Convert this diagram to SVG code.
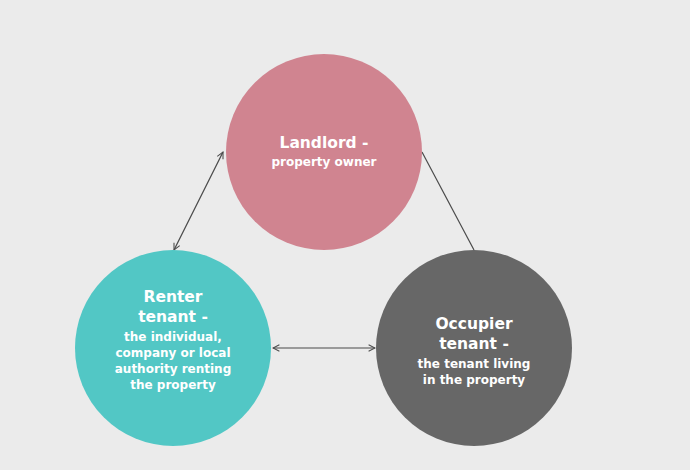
<svg xmlns="http://www.w3.org/2000/svg" width="690" height="470" viewBox="0 0 690 470">
<style>
.t{font-family:"DejaVu Sans","Liberation Sans",sans-serif;font-weight:bold;fill:#ffffff;text-anchor:middle}
.h{font-size:15.5px}
.s{font-size:12px}
.c{stroke:#4a4a4a;stroke-width:1.2;fill:none}
</style>
<defs>
<marker id="a" viewBox="0 0 10 10" refX="9" refY="5" markerWidth="8" markerHeight="8" orient="auto-start-reverse" markerUnits="userSpaceOnUse">
<path d="M1,1 L9,5 L1,9" fill="none" stroke="#4a4a4a" stroke-width="1.3"/>
</marker>
</defs>
<rect width="690" height="470" fill="#ebebeb"/>
<g id="connectors">
<line class="c" x1="223" y1="152" x2="174" y2="250" marker-start="url(#a)" marker-end="url(#a)"/>
<line class="c" x1="422" y1="152" x2="474" y2="250"/>
<line class="c" x1="273" y1="348" x2="375" y2="348" marker-start="url(#a)" marker-end="url(#a)"/>
</g>
<g id="landlord">
<circle cx="324" cy="152" r="98" fill="#d08490"/>
<text class="t h" x="324" y="148">Landlord -</text>
<text class="t s" x="324" y="166">property owner</text>
</g>
<g id="renter">
<circle cx="173" cy="348" r="98" fill="#52c7c5"/>
<text class="t h" x="173" y="302">Renter</text>
<text class="t h" x="173" y="322">tenant -</text>
<text class="t s" x="173" y="341">the individual,</text>
<text class="t s" x="173" y="357">company or local</text>
<text class="t s" x="173" y="373">authority renting</text>
<text class="t s" x="173" y="389">the property</text>
</g>
<g id="occupier">
<circle cx="474" cy="348" r="98" fill="#676767"/>
<text class="t h" x="474" y="329">Occupier</text>
<text class="t h" x="474" y="349">tenant -</text>
<text class="t s" x="474" y="368">the tenant living</text>
<text class="t s" x="474" y="384">in the property</text>
</g>
</svg>
